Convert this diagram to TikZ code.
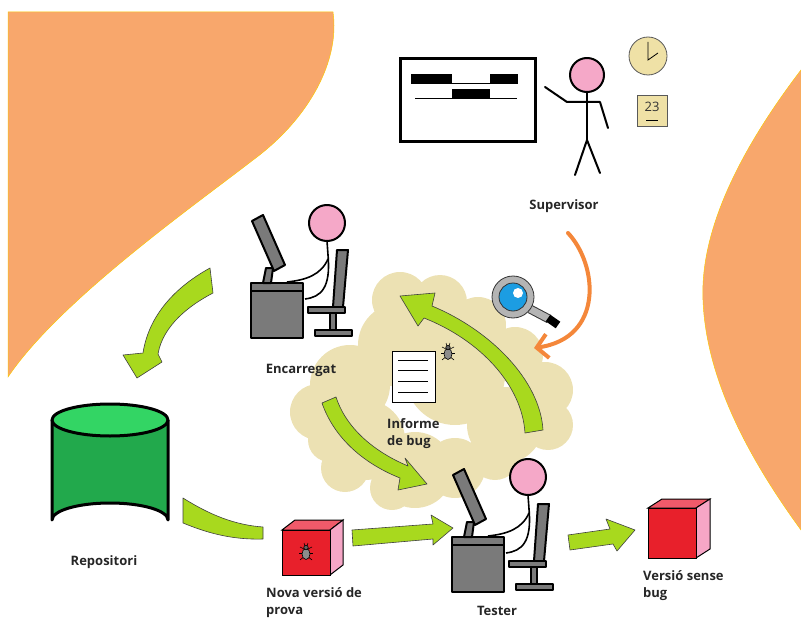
\documentclass[tikz,border=0pt]{standalone}
\usepackage{fontspec}
\setmainfont{Open Sans}
\usetikzlibrary{arrows.meta}

\definecolor{blobcolor}{HTML}{F8A76C}
\definecolor{cloudcolor}{HTML}{ECE1B3}
\definecolor{arrowgreen}{HTML}{A8D91E}
\definecolor{headpink}{HTML}{F5A8C8}
\definecolor{deskgray}{HTML}{7A7A7A}
\definecolor{repogreen}{HTML}{22A94C}
\definecolor{repotop}{HTML}{33D564}
\definecolor{cubered}{HTML}{E8202B}
\definecolor{cubetop}{HTML}{F05A6A}
\definecolor{cubeside}{HTML}{F6A6C6}
\definecolor{clockbeige}{HTML}{EFE1A6}
\definecolor{lensblue}{HTML}{1C9DE2}
\definecolor{lensring}{HTML}{B4B4B4}
\definecolor{supervisororange}{HTML}{F4873A}
\definecolor{buggray}{HTML}{8C8C8C}

\tikzset{
  iconline/.style={draw=black, line width=2pt, line join=round},
  greenarrow/.style={fill=arrowgreen, draw=black!75, line width=0.6pt, line join=round},
  lbl/.style={font=\bfseries\fontsize{13}{17}\selectfont, text=black!85, inner sep=0pt, align=left},
  % someone working at a desk; origin is the top left corner of the desk
  worker/.pic={
    \draw[iconline, fill=deskgray] (0,0) rectangle (52,55);
    \draw[iconline] (0,8) -- (52,8);
    \draw[iconline, fill=deskgray] (12,0) -- (15,-15) -- (22,-15) -- (20,0) -- cycle;
    \draw[iconline, fill=deskgray] (1,-62) -- (12,-68) -- (34,-18) -- (23,-12) -- cycle;
    % chair
    \draw[iconline, fill=deskgray] (86,-33) -- (97,-33) -- (92,24) -- (82,24) -- cycle;
    \draw[iconline, fill=deskgray] (57,24) rectangle (94,30);
    \draw[iconline, fill=deskgray] (79,30) rectangle (85,47);
    \draw[iconline, fill=deskgray] (64,47) rectangle (101,53);
    % person
    \draw[line width=1.6pt] (76,-42) -- (77,-28) .. controls (80,5) and (70,14) .. (54,16);
    \draw[line width=1.6pt] (77,-24) .. controls (70,-8) and (55,-3) .. (36,-1);
    \draw[iconline, fill=headpink] (76,-60) circle (18);
  },
  bug/.pic={
    \foreach \s in {-1,1} {
      \draw[line width=0.6pt] (0,-2) -- (\s*6,-5);
      \draw[line width=0.6pt] (0,1) -- (\s*7,1);
      \draw[line width=0.6pt] (0,3) -- (\s*6,8);
      \draw[line width=0.5pt] (\s*1,-6) -- (\s*2,-9);
    }
    \draw[line width=0.6pt, fill=buggray] (0,2) ellipse (4 and 5.5);
    \draw[line width=0.6pt, fill=buggray!70!black] (0,-4.5) circle (2.2);
  }
}

\begin{document}
\begin{tikzpicture}[x=1pt, y=-1pt]
\useasboundingbox (0,0) rectangle (801,623);

% orange background blobs
\fill[blobcolor, draw=yellow!60!orange, line width=0.5pt] (8,12) -- (333,12)
  .. controls (340,60) and (310,118) .. (253,160)
  .. controls (195,205) and (60,300) .. (8,377) -- cycle;
\fill[blobcolor, draw=yellow!60!orange, line width=0.5pt] (801,70)
  .. controls (740,150) and (700,230) .. (703,300)
  .. controls (706,380) and (750,460) .. (801,530) -- cycle;

% cloud holding the bug report
\fill[cloudcolor]
  \foreach \cx/\cy/\r in {400/300/28, 440/302/27, 478/325/28, 515/355/28, 545/390/28,
                          548/425/25, 505/425/38, 455/375/50, 400/345/42, 350/385/40,
                          318/412/28, 365/440/40, 415/470/38, 455/468/30, 330/440/22,
                          495/455/25, 345/468/24, 392/488/22} {(\cx,\cy) circle (\r)};

% supervisor with the planning board
\draw[line width=3pt] (400,59) rectangle (535,142);
\fill (411,74) rectangle (452,84);
\fill (490,74) rectangle (518,84);
\fill (452,89) rectangle (490,98);
\draw[line width=0.8pt] (452,83) -- (490,83);
\draw[line width=0.8pt] (415,98) -- (517,98);
\draw[line width=2pt, line cap=round] (587,92) -- (587,140);
\draw[line width=2pt, line cap=round] (575,175) -- (587,140) -- (600,173);
\draw[line width=2pt, line cap=round, line join=round] (545,87) -- (567,102) -- (600,102) -- (608,128);
\draw[iconline, fill=headpink] (587,75) circle (17);
\draw[fill=clockbeige, draw=black!65, line width=0.8pt] (648,56) circle (19);
\draw[line width=0.8pt] (648,42) -- (648,60) -- (658,53);
\draw[fill=clockbeige, draw=black!65, line width=0.8pt] (637,95) rectangle (667,126);
\node[font=\fontsize{13}{13}\selectfont, text=black!80, inner sep=0pt] (day) at (652,107) {23};
\draw[line width=0.8pt] (646,120) -- (658,120);
\node[lbl] (supervisor) at (564,206) {Supervisor};

% supervisor checks the report
\draw[supervisororange, line width=4pt, line cap=round, -{Straight Barb[length=11pt, width=24pt]}]
  (568,233) .. controls (598,265) and (604,338) .. (534,348);

% magnifying glass
\draw[line width=7pt, line cap=butt, lensring, preaction={draw=black!80, line width=9pt}] (530,309) -- (549,319);
\draw[line width=8pt] (548,318) -- (558,325);
\draw[fill=lensring, draw=black!80, line width=0.8pt] (513,297) circle (21);
\draw[fill=lensblue, draw=black!80, line width=0.8pt] (513,297) circle (14);
\fill[white] (518,293) circle (5);

% manager and tester
\pic at (251,283) {worker};
\node[lbl] (encarregat) at (301,370) {Encarregat};
\pic at (452,537) {worker};
\node[lbl] (tester) at (497,611) {Tester};

% bug report
\draw[fill=white, line width=1pt] (392,351) rectangle (435,402);
\foreach \y in {360,370,381,392}
  \draw[line width=0.8pt] (398,\y) -- (428,\y);
\pic at (448,352) {bug};
\node[lbl, anchor=north west] (informe) at (387,418) {Informe\\de bug};

% repository
\draw[iconline, line width=3pt, fill=repogreen] (52,420) -- (52,520) arc[start angle=180, end angle=360, x radius=58, y radius=17] -- (168,420);
\draw[iconline, line width=3pt, fill=repotop] (110,420) ellipse (58 and 16);
\node[lbl] (repositori) at (104,562) {Repositori};

% test version with a bug
\draw[line width=1pt, fill=cubetop] (282,530) -- (295,520) -- (343,520) -- (330,530) -- cycle;
\draw[line width=1pt, fill=cubeside] (330,530) -- (343,520) -- (343,565) -- (330,575) -- cycle;
\draw[line width=1pt, fill=cubered] (282,530) rectangle (330,575);
\pic at (306,552) {bug};
\node[lbl, anchor=north west] (nova) at (266,587) {Nova versió de\\prova};

% version without bugs
\draw[line width=1pt, fill=cubetop] (648,508) -- (662,499) -- (710,499) -- (696,508) -- cycle;
\draw[line width=1pt, fill=cubeside] (696,508) -- (710,499) -- (710,549) -- (696,558) -- cycle;
\draw[line width=1pt, fill=cubered] (648,508) rectangle (696,558);
\node[lbl, anchor=north west] (sensebug) at (643,570) {Versió sense\\bug};

% green flow arrows
\draw[greenarrow] (210,268) -- (213,293)
  .. controls (190,305) and (163,325) .. (158,354) -- (162,362) -- (137,378) -- (123,355) -- (143,353)
  .. controls (148,320) and (170,290) .. (210,268) -- cycle;
\draw[greenarrow] (183,498) .. controls (210,515) and (235,525) .. (263,527) -- (263,539)
  .. controls (230,540) and (205,532) .. (183,523) -- cycle;
\draw[greenarrow] (352,530) -- (433,524) -- (431,515) -- (453,528) -- (433,545) -- (433,539) -- (353,546) -- cycle;
\draw[greenarrow] (568,535) -- (610,529) -- (606,519) -- (635,530) -- (617,551) -- (613,544) -- (570,550) -- cycle;
\draw[greenarrow] (322,403) -- (336,397)
  .. controls (345,425) and (370,450) .. (408,466) -- (405,458) -- (427,484) -- (398,490) -- (400,478)
  .. controls (360,462) and (333,435) .. (322,403) -- cycle;
\draw[greenarrow] (525,433) -- (543,430)
  .. controls (540,380) and (490,330) .. (432,306) -- (435,293) -- (400,296) -- (418,326) -- (424,318)
  .. controls (480,340) and (522,385) .. (525,433) -- cycle;
\end{tikzpicture}
\end{document}
